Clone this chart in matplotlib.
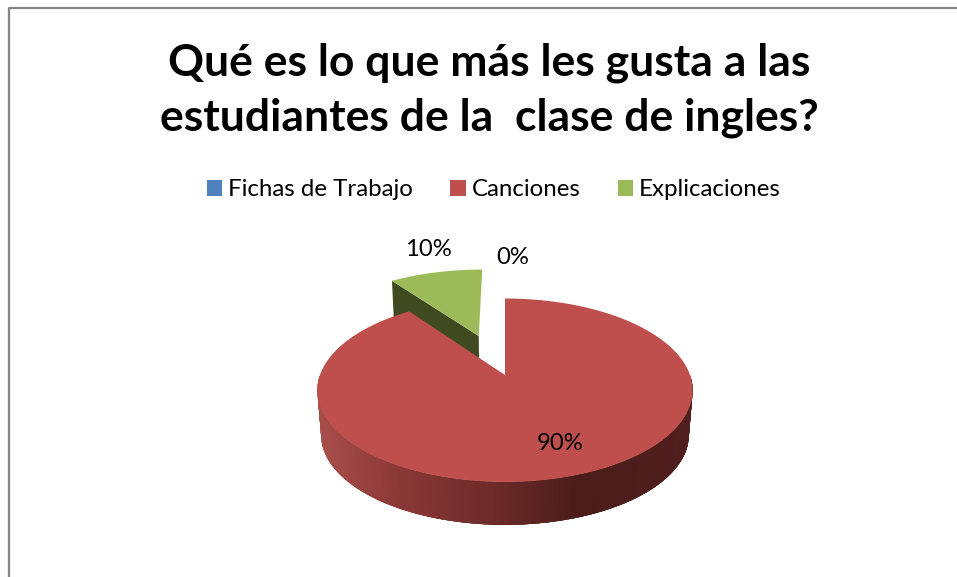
import numpy as np
import matplotlib
matplotlib.use("Agg")
import matplotlib.pyplot as plt
from matplotlib.patches import Patch

# ---- data ----
categories = ["Fichas de Trabajo", "Canciones", "Explicaciones"]
values = [0, 90, 10]
title_text = "Qué es lo que más les gusta a las\nestudiantes de la  clase de ingles?"

# ---- styles / layout ----
colors = ["#4F81BD", "#BE4F4C", "#9BBB59"]
wall_dark = {2: "#3F4A20"}
explode = [0.0, 0.0, 0.495]
label_pos = [(513, 257), (560, 444), (428, 250)]
cx, cy = 505.0, 375.0      # pie centre in pixels
R, A, K = 185.0, 89.2, 0.166   # perspective of the disc
DEPTH, BOTTOM_SCALE = 45.0, 0.98
wall_x = [318, 400, 500, 583, 694]
wall_rgb = ["#A94F4B", "#8A3836", "#6B2A28", "#4A1C1A", "#501F1D"]

def project(u, v, bottom=False):
    u, v = np.asarray(u, float), np.asarray(v, float)
    d = 1 + K * v
    X, Y = R * u / d, A * v / d
    if bottom:
        return cx + X * BOTTOM_SCALE, cy - Y * BOTTOM_SCALE + DEPTH
    return cx + X, cy - Y

def wedge_uv(a0, a1, off, n=400):
    """Angles clockwise from the top, degrees."""
    t = np.radians(np.linspace(a0, a1, n))
    mid = np.radians((a0 + a1) / 2)
    ou, ov = off * np.sin(mid), off * np.cos(mid)
    return ou, ov, ou + np.sin(t), ov + np.cos(t)

wall_rgba = np.array([matplotlib.colors.to_rgb(c) for c in wall_rgb])
def wall_color(x):
    return tuple(np.interp(x, wall_x, wall_rgba[:, i]) for i in range(3))

fig = plt.figure(figsize=(9.57, 5.77), dpi=100, facecolor="white")
ax = fig.add_axes([0, 0, 1, 1])
ax.set_xlim(0, 957)
ax.set_ylim(577, 0)
ax.axis("off")

# chart frame
ax.plot([9, 9, 957], [577, 7.5, 7.5], color="#868686", lw=1.6, solid_capstyle="butt")

total = sum(values)
angles = np.cumsum([0] + [360 * v / total for v in values])

# draw back-most slices first: exploded green, then red
for i in sorted(range(len(values)), key=lambda j: -explode[j]):
    if values[i] == 0:
        continue
    a0, a1 = angles[i], angles[i + 1]
    ou, ov, us, vs = wedge_uv(a0, a1, explode[i])
    if i in wall_dark:
        # cut face that looks toward the viewer
        xt, yt = project([us[0], ou], [vs[0], ov])
        xb, yb = project([ou, us[0]], [ov, vs[0]], bottom=True)
        ax.fill(np.r_[xt, xb], np.r_[yt, yb], color=wall_dark[i], lw=0, zorder=2)
    else:
        xt, yt = project(us, vs)
        xb, yb = project(us, vs, bottom=True)
        front = np.where(vs < 0.0)[0]
        for k in front[:-1]:
            # each strip overlaps the next ones, so no seams show
            e = min(k + 4, front[-1]) + 1
            ax.fill(np.r_[xt[k:e], xb[k:e][::-1]], np.r_[yt[k:e], yb[k:e][::-1]],
                    color=wall_color(xt[k]), lw=0, zorder=3)
    xs, ys = project(np.r_[ou, us], np.r_[ov, vs])
    ax.fill(xs, ys, color=colors[i], lw=0, zorder=4)

# value labels
for (x, y), v in zip(label_pos, values):
    ax.text(x, y, f"{v}%", ha="center", va="center", fontsize=17.2,
            family="Lato", color="black", zorder=6)

# title
ax.text(489, 90.5, title_text, ha="center", va="center", fontsize=32,
        family="Lato", fontweight="bold", color="black", linespacing=1.45)

# legend
handles = [Patch(facecolor=c, edgecolor="none") for c in colors]
ax.legend(handles, categories, ncol=3, loc="center", bbox_to_anchor=(494, 190),
          bbox_transform=ax.transData, frameon=False,
          prop={"family": "Lato", "size": 17.3}, handlelength=0.63, handleheight=0.63,
          handletextpad=0.25, columnspacing=1.55, borderpad=0, borderaxespad=0)

fig.savefig("out.png", dpi=100)
